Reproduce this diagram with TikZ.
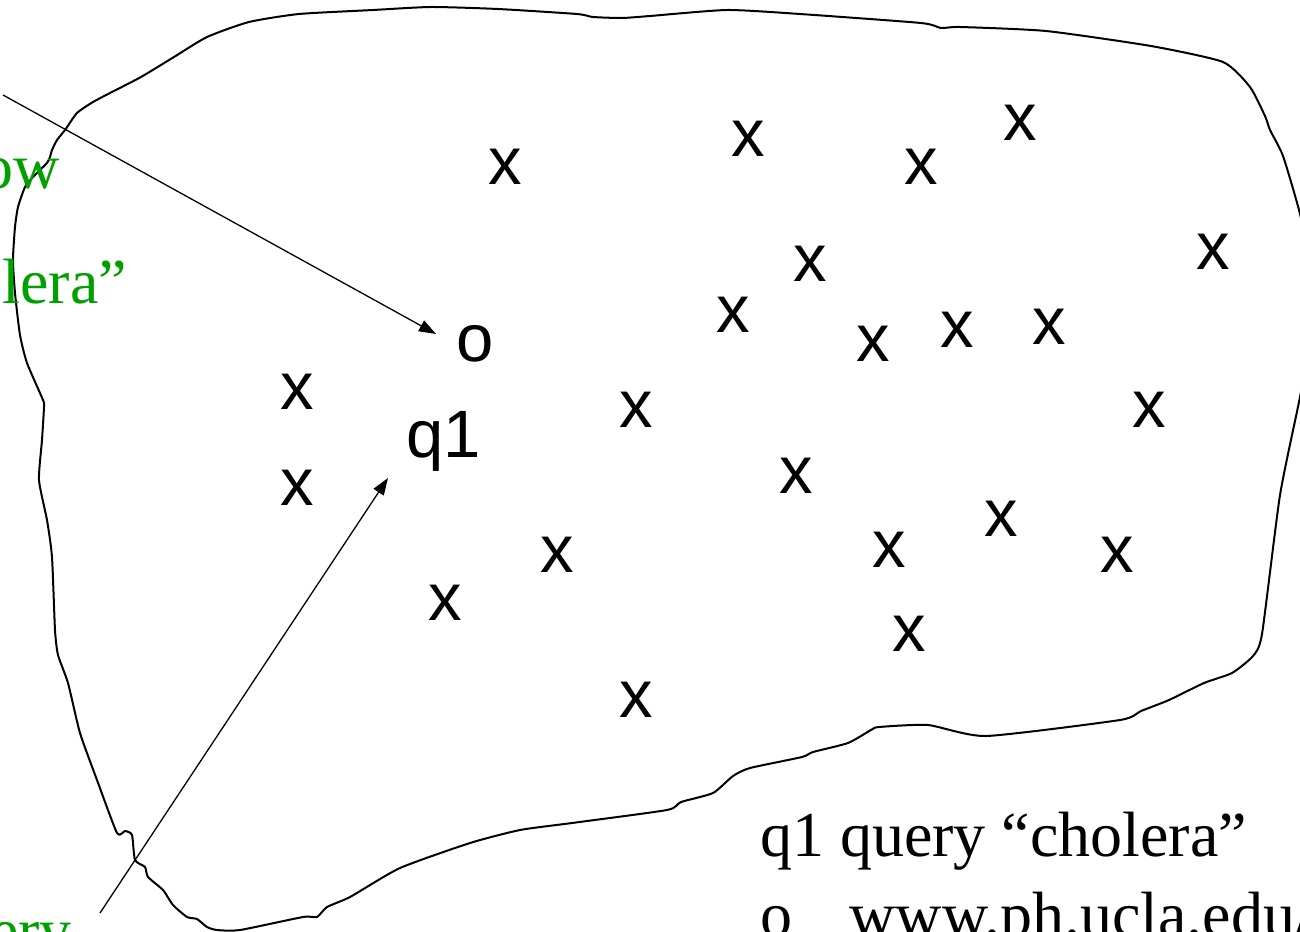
\documentclass[tikz,border=0pt]{standalone}
\usepackage{fontspec}
\setmainfont{Liberation Serif}
\newfontfamily\markfont{Liberation Sans}
\usetikzlibrary{arrows.meta}
\definecolor{notegreen}{RGB}{0,160,0}

\begin{document}
\begin{tikzpicture}[x=1pt, y=-1pt,
  docmark/.style={font=\markfont\fontsize{67}{80}\selectfont, inner sep=0pt},
  legend/.style={font=\fontsize{64}{77}\selectfont, inner sep=0pt, anchor=base west},
  note/.style={legend, text=notegreen, anchor=base east},
  pointer/.style={line width=1.3pt, -{Triangle[length=17pt, width=12pt]}}]
  \useasboundingbox (0,0) rectangle (1300,931);
  \clip (0,0) rectangle (1300,931);
  % draw the collection outline
  \draw[line width=2pt, line join=round] plot[smooth cycle, tension=0.35] coordinates {
    (65,130) (77,113) (93,102) (110,93) (141,77) (174,57) (207,37) (249,22)
    (299,14) (373,10) (431,7) (498,9) (577,14) (593,17) (622,18) (650,16)
    (727,10) (800,14) (921,23) (941,28) (960,27) (1046,31) (1151,46) (1223,62)
    (1250,87) (1265,116) (1270,130) (1283,156) (1300,214) (1310,270) (1312,330)
    (1300,397) (1280,495) (1262,634) (1253,656) (1232,673) (1204,683) (1169,700)
    (1141,711) (1120,720) (986,736) (928,725) (879,727) (871,730) (848,743)
    (813,752) (802,757) (750,768) (733,776) (713,793) (681,802) (667,810)
    (572,823) (520,830) (470,843) (400,868) (350,897) (327,907) (317,917)
    (303,917) (240,930) (217,930) (207,927) (197,919) (187,917) (173,905)
    (163,890) (148,877) (145,867) (135,860) (132,835) (125,831) (117,833)
    (97,780) (80,733) (68,683) (58,655) (55,630) (52,557) (47,520) (39,480)
    (42,440) (44,407) (43,400) (27,363) (20,335) (15,293) (13,260) (15,227)
    (18,207) (25,187) (33,177) (47,163) (50,157) (52,150) (57,140)};
  % draw document marks
  \node[docmark] (doc1) at (505,167) {x};
  \node[docmark] (doc2) at (748,139) {x};
  \node[docmark] (doc3) at (921,167) {x};
  \node[docmark] (doc4) at (1020,123) {x};
  \node[docmark] (doc5) at (810,264) {x};
  \node[docmark] (doc6) at (1213,252) {x};
  \node[docmark] (doc7) at (733,315) {x};
  \node[docmark] (doc8) at (873,344) {x};
  \node[docmark] (doc9) at (957,330) {x};
  \node[docmark] (doc10) at (1049,327) {x};
  \node[docmark] (doc11) at (297,392) {x};
  \node[docmark] (doc12) at (636,410) {x};
  \node[docmark] (doc13) at (1149,410) {x};
  \node[docmark] (doc14) at (297,488) {x};
  \node[docmark] (doc15) at (796,476) {x};
  \node[docmark] (doc16) at (1001,519) {x};
  \node[docmark] (doc17) at (557,555) {x};
  \node[docmark] (doc18) at (889,550) {x};
  \node[docmark] (doc19) at (1117,555) {x};
  \node[docmark] (doc20) at (445,603) {x};
  \node[docmark] (doc21) at (909,634) {x};
  \node[docmark] (doc22) at (636,700) {x};
  % the answer page and the query
  \node[docmark] (page_o) at (475,344) {o};
  \node[docmark, anchor=base] (query_q1) at (444,457) {q1};
  % green notes and pointers
  \node[note] (note_answer) at (60,188) {ow};
  \node[note] (note_term) at (127,303) {olera”};
  \node[note] (note_query) at (72,952) {query};
  \coordinate (answer_start) at (3,95);
  \coordinate (answer_tip) at (436,334);
  \coordinate (query_start) at (100,913);
  \coordinate (query_tip) at (388,478);
  \draw[pointer] (answer_start) -- (answer_tip);
  \draw[pointer] (query_start) -- (query_tip);
  % legend
  \node[legend] (legend_q1) at (760,856) {q1 query “cholera”};
  \node[legend] (legend_o) at (760,936) {o\hspace{0.9em}www.ph.ucla.edu/};
\end{tikzpicture}
\end{document}
